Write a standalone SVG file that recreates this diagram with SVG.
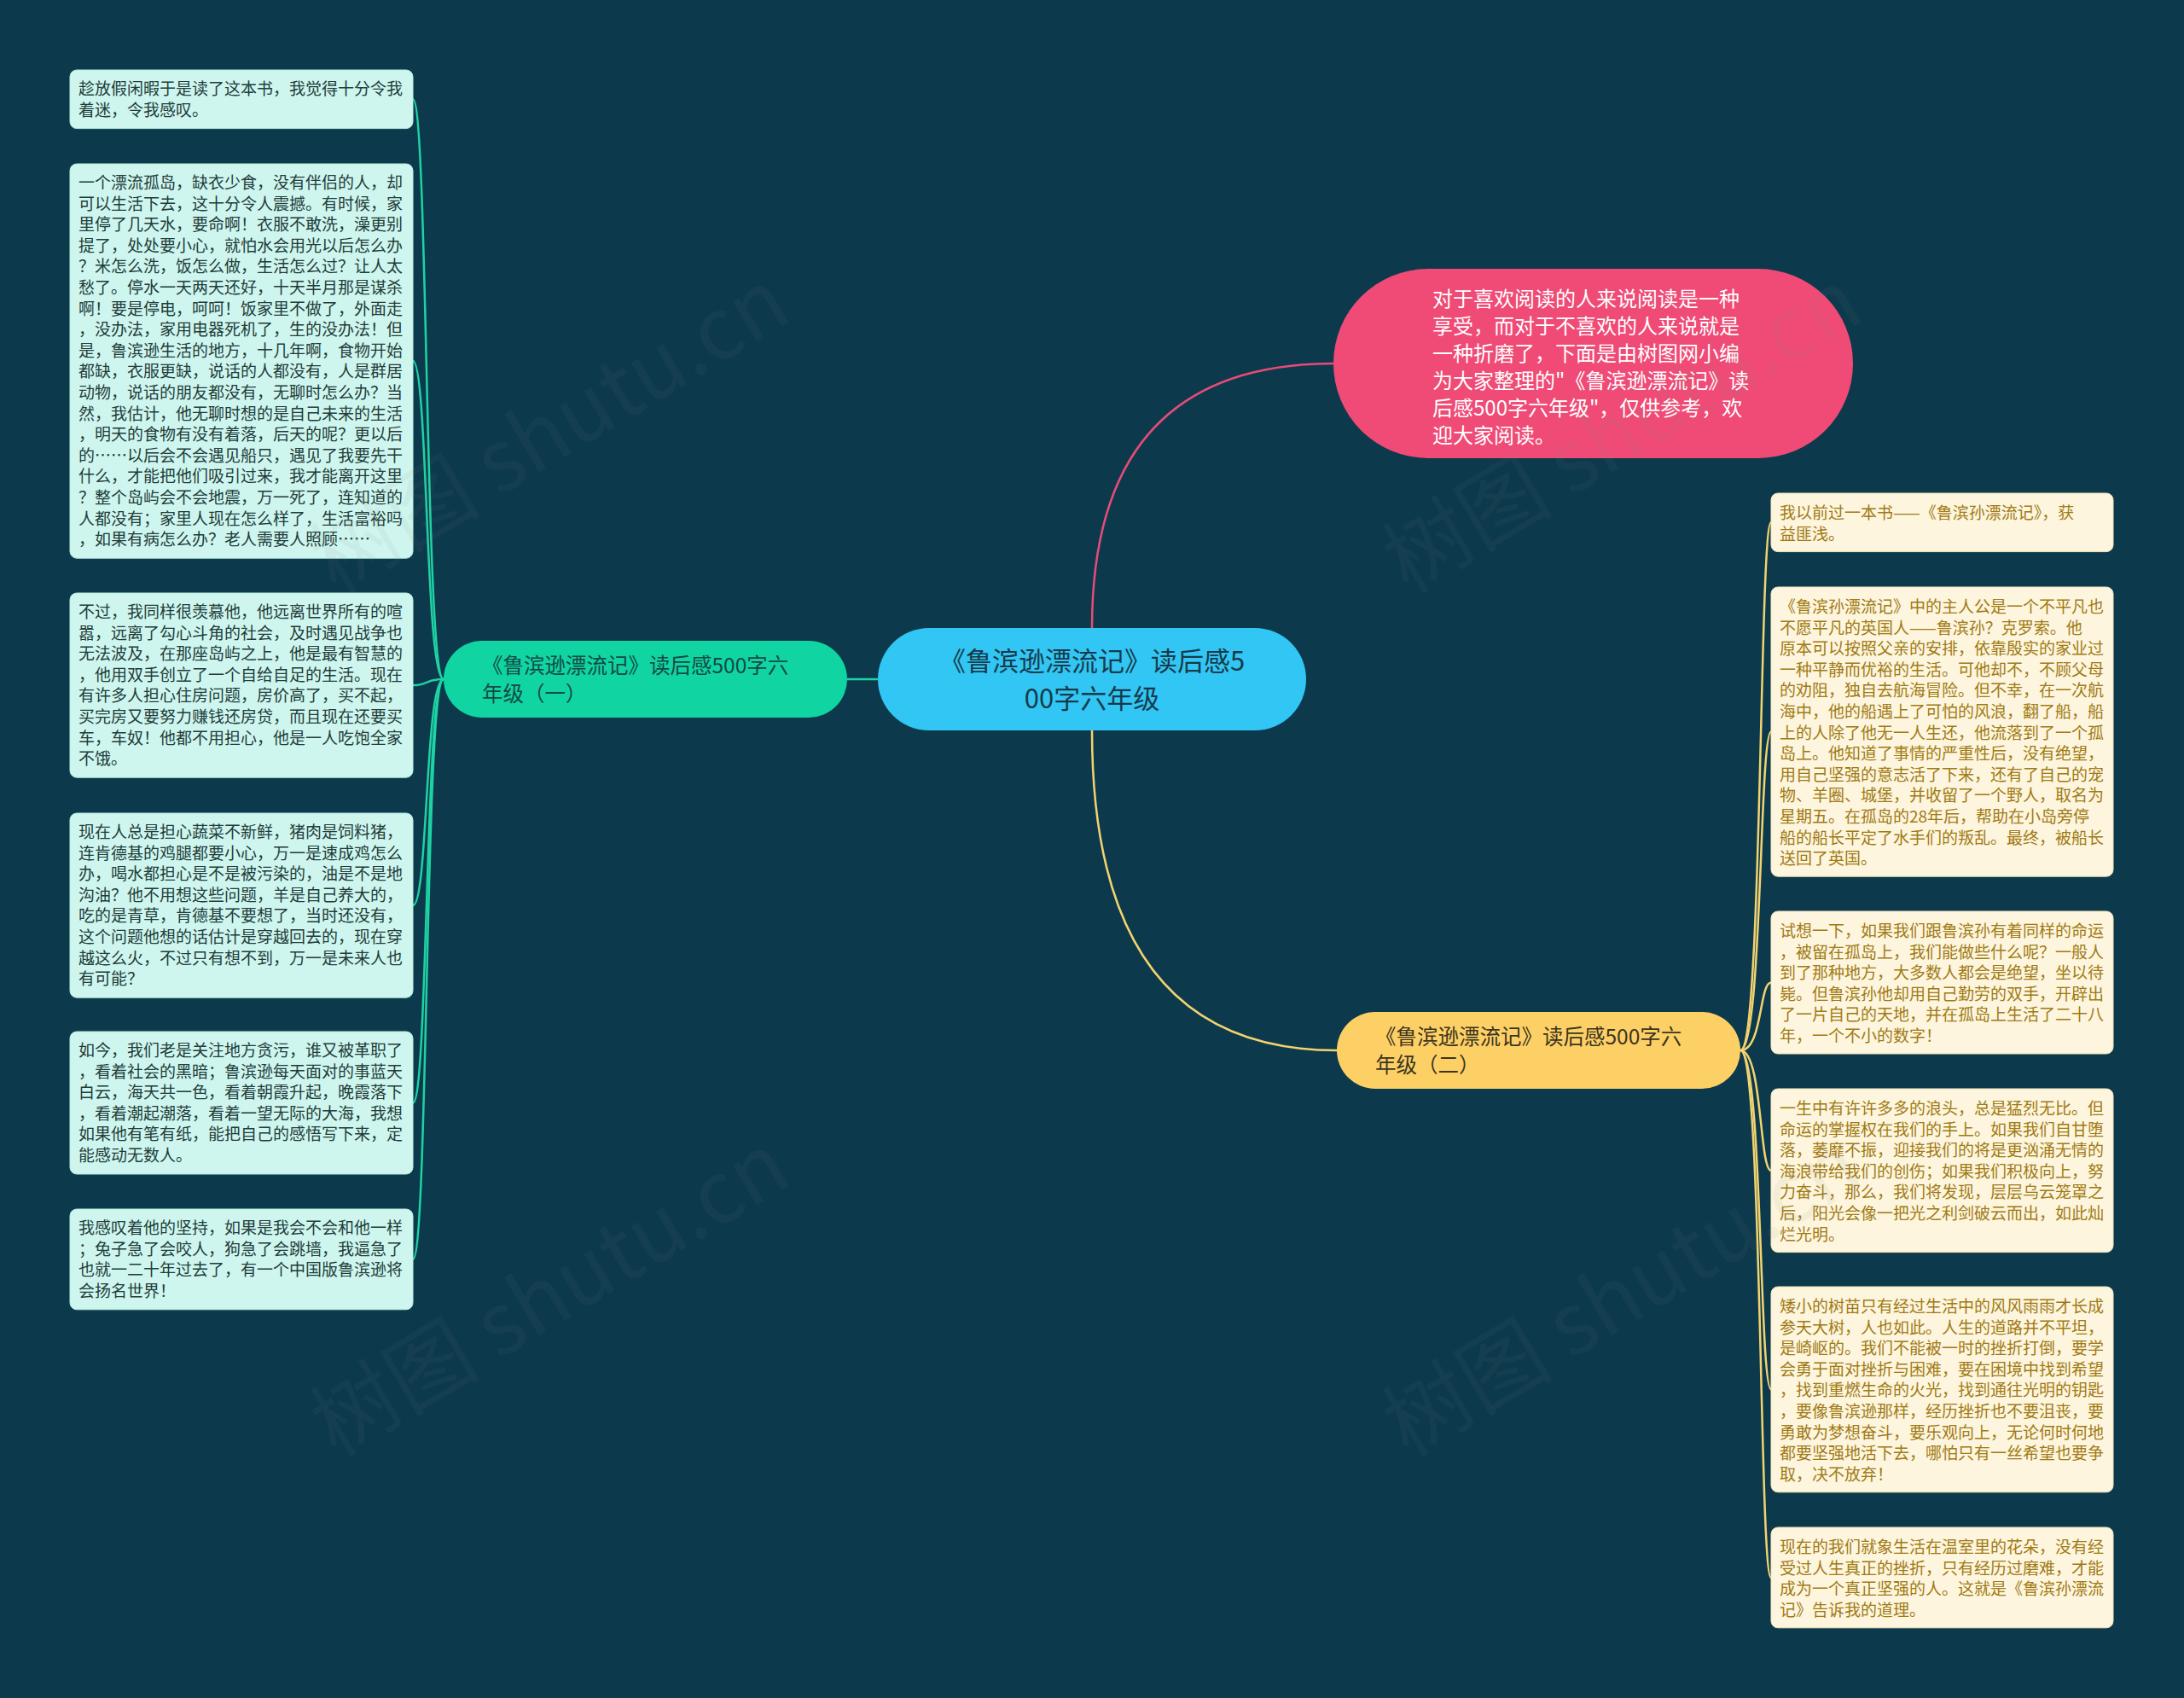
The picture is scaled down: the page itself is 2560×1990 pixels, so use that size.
<svg xmlns="http://www.w3.org/2000/svg" width="2560" height="1990" viewBox="0 0 2560 1990">
<style>
.bg{fill:#0c3a4c}
.t{font-family:"Noto Sans CJK SC","Noto Sans",sans-serif}
.leafL rect{fill:#cff6ee;stroke:#b5ede0;stroke-width:1}
.leafL text{fill:#213c3a;font-size:19px}
.leafR rect{fill:#fdf5dd;stroke:#f2e4b8;stroke-width:1}
.leafR text{fill:#a07a14;font-size:19px}
.cg{fill:none;stroke:#1ed3a3;stroke-width:2.5}
.cy{fill:none;stroke:#f3d36f;stroke-width:2.5}
.cp{fill:none;stroke:#e84b78;stroke-width:2.5}
.wm{font-family:"Noto Sans CJK SC","Liberation Sans",sans-serif;font-size:100px;fill:#8a8a8a;opacity:0.07}
</style>
<rect class="bg" x="0" y="0" width="2560" height="1990"/>

<g id="connectors">
  <path class="cp" d="M1280 736 Q1280 426 1563 426"/>
  <path class="cy" d="M1280 856 Q1280 1231 1567 1231"/>
  <path class="cg" d="M1029 796 L993 796"/>
  <path class="cg" d="M520 796 C498 796 502 116.3 484 116.3"/>
  <path class="cg" d="M520 796 C498 796 502 423.1 484 423.1"/>
  <path class="cg" d="M520 796 C498 796 502 803.1 484 803.1"/>
  <path class="cg" d="M520 796 C498 796 502 1061.1 484 1061.1"/>
  <path class="cg" d="M520 796 C498 796 502 1292.5 484 1292.5"/>
  <path class="cg" d="M520 796 C498 796 502 1475.9 484 1475.9"/>
  <path class="cy" d="M2040 1231 C2066 1231 2062 612.3 2076 612.3"/>
  <path class="cy" d="M2040 1231 C2066 1231 2062 857.6 2076 857.6"/>
  <path class="cy" d="M2040 1231 C2066 1231 2062 1151.5 2076 1151.5"/>
  <path class="cy" d="M2040 1231 C2066 1231 2062 1371.8 2076 1371.8"/>
  <path class="cy" d="M2040 1231 C2066 1231 2062 1628.4 2076 1628.4"/>
  <path class="cy" d="M2040 1231 C2066 1231 2062 1848.9 2076 1848.9"/>
</g>

<g id="root">
  <rect x="1029" y="736" width="502" height="120" rx="60" fill="#31c6f4"/>
  <text class="t" x="1280" y="786" font-size="31" fill="#173a4a" text-anchor="middle">《鲁滨逊漂流记》读后感5<tspan x="1280" dy="44">00字六年级</tspan></text>
</g>

<g id="intro">
  <rect x="1563" y="315" width="609" height="222" rx="111" fill="#ef4b76"/>
  <text class="t" x="1679" y="358.5" font-size="24" fill="#ffffff">对于喜欢阅读的人来说阅读是一种<tspan x="1679" dy="32">享受，而对于不喜欢的人来说就是</tspan><tspan x="1679" dy="32">一种折磨了，下面是由树图网小编</tspan><tspan x="1679" dy="32">为大家整理的"《鲁滨逊漂流记》读</tspan><tspan x="1679" dy="32">后感500字六年级"，仅供参考，欢</tspan><tspan x="1679" dy="32">迎大家阅读。</tspan></text>
</g>

<g id="branch1">
  <rect x="520" y="751" width="473" height="90" rx="45" fill="#10d5a2"/>
  <text class="t" x="565" y="789" font-size="24.5" fill="#134a44">《鲁滨逊漂流记》读后感500字六<tspan x="565" dy="33">年级（一）</tspan></text>
</g>

<g id="branch2">
  <rect x="1567" y="1186" width="473" height="90" rx="45" fill="#fdd066"/>
  <text class="t" x="1612" y="1224" font-size="24.5" fill="#3b3420">《鲁滨逊漂流记》读后感500字六<tspan x="1612" dy="33">年级（二）</tspan></text>
</g>

<g id="leafL1" class="leafL">
  <rect x="82" y="82" width="402" height="68.6" rx="8"/>
  <text class="t" x="92" y="111">趁放假闲暇于是读了这本书，我觉得十分令我<tspan x="92" dy="24.6">着迷，令我感叹。</tspan></text>
</g>

<g id="leafL2" class="leafL">
  <rect x="82" y="192" width="402" height="462.2" rx="8"/>
  <text class="t" x="92" y="221">一个漂流孤岛，缺衣少食，没有伴侣的人，却<tspan x="92" dy="24.6">可以生活下去，这十分令人震撼。有时候，家</tspan><tspan x="92" dy="24.6">里停了几天水，要命啊！衣服不敢洗，澡更别</tspan><tspan x="92" dy="24.6">提了，处处要小心，就怕水会用光以后怎么办</tspan><tspan x="92" dy="24.6">？米怎么洗，饭怎么做，生活怎么过？让人太</tspan><tspan x="92" dy="24.6">愁了。停水一天两天还好，十天半月那是谋杀</tspan><tspan x="92" dy="24.6">啊！要是停电，呵呵！饭家里不做了，外面走</tspan><tspan x="92" dy="24.6">，没办法，家用电器死机了，生的没办法！但</tspan><tspan x="92" dy="24.6">是，鲁滨逊生活的地方，十几年啊，食物开始</tspan><tspan x="92" dy="24.6">都缺，衣服更缺，说话的人都没有，人是群居</tspan><tspan x="92" dy="24.6">动物，说话的朋友都没有，无聊时怎么办？当</tspan><tspan x="92" dy="24.6">然，我估计，他无聊时想的是自己未来的生活</tspan><tspan x="92" dy="24.6">，明天的食物有没有着落，后天的呢？更以后</tspan><tspan x="92" dy="24.6">的……以后会不会遇见船只，遇见了我要先干</tspan><tspan x="92" dy="24.6">什么，才能把他们吸引过来，我才能离开这里</tspan><tspan x="92" dy="24.6">？整个岛屿会不会地震，万一死了，连知道的</tspan><tspan x="92" dy="24.6">人都没有；家里人现在怎么样了，生活富裕吗</tspan><tspan x="92" dy="24.6">，如果有病怎么办？老人需要人照顾……</tspan></text>
</g>

<g id="leafL3" class="leafL">
  <rect x="82" y="695" width="402" height="216.2" rx="8"/>
  <text class="t" x="92" y="724">不过，我同样很羡慕他，他远离世界所有的喧<tspan x="92" dy="24.6">嚣，远离了勾心斗角的社会，及时遇见战争也</tspan><tspan x="92" dy="24.6">无法波及，在那座岛屿之上，他是最有智慧的</tspan><tspan x="92" dy="24.6">，他用双手创立了一个自给自足的生活。现在</tspan><tspan x="92" dy="24.6">有许多人担心住房问题，房价高了，买不起，</tspan><tspan x="92" dy="24.6">买完房又要努力赚钱还房贷，而且现在还要买</tspan><tspan x="92" dy="24.6">车，车奴！他都不用担心，他是一人吃饱全家</tspan><tspan x="92" dy="24.6">不饿。</tspan></text>
</g>

<g id="leafL4" class="leafL">
  <rect x="82" y="953" width="402" height="216.2" rx="8"/>
  <text class="t" x="92" y="982">现在人总是担心蔬菜不新鲜，猪肉是饲料猪，<tspan x="92" dy="24.6">连肯德基的鸡腿都要小心，万一是速成鸡怎么</tspan><tspan x="92" dy="24.6">办，喝水都担心是不是被污染的，油是不是地</tspan><tspan x="92" dy="24.6">沟油？他不用想这些问题，羊是自己养大的，</tspan><tspan x="92" dy="24.6">吃的是青草，肯德基不要想了，当时还没有，</tspan><tspan x="92" dy="24.6">这个问题他想的话估计是穿越回去的，现在穿</tspan><tspan x="92" dy="24.6">越这么火，不过只有想不到，万一是未来人也</tspan><tspan x="92" dy="24.6">有可能？</tspan></text>
</g>

<g id="leafL5" class="leafL">
  <rect x="82" y="1209" width="402" height="167" rx="8"/>
  <text class="t" x="92" y="1238">如今，我们老是关注地方贪污，谁又被革职了<tspan x="92" dy="24.6">，看着社会的黑暗；鲁滨逊每天面对的事蓝天</tspan><tspan x="92" dy="24.6">白云，海天共一色，看着朝霞升起，晚霞落下</tspan><tspan x="92" dy="24.6">，看着潮起潮落，看着一望无际的大海，我想</tspan><tspan x="92" dy="24.6">如果他有笔有纸，能把自己的感悟写下来，定</tspan><tspan x="92" dy="24.6">能感动无数人。</tspan></text>
</g>

<g id="leafL6" class="leafL">
  <rect x="82" y="1417" width="402" height="117.8" rx="8"/>
  <text class="t" x="92" y="1446">我感叹着他的坚持，如果是我会不会和他一样<tspan x="92" dy="24.6">；兔子急了会咬人，狗急了会跳墙，我逼急了</tspan><tspan x="92" dy="24.6">也就一二十年过去了，有一个中国版鲁滨逊将</tspan><tspan x="92" dy="24.6">会扬名世界！</tspan></text>
</g>

<g id="leafR1" class="leafR">
  <rect x="2076" y="578" width="401" height="68.6" rx="8"/>
  <text class="t" x="2086" y="608">我以前过一本书——《鲁滨孙漂流记》，获<tspan x="2086" dy="24.6">益匪浅。</tspan></text>
</g>

<g id="leafR2" class="leafR">
  <rect x="2076" y="688" width="401" height="339.2" rx="8"/>
  <text class="t" x="2086" y="718">《鲁滨孙漂流记》中的主人公是一个不平凡也<tspan x="2086" dy="24.6">不愿平凡的英国人——鲁滨孙？克罗索。他</tspan><tspan x="2086" dy="24.6">原本可以按照父亲的安排，依靠殷实的家业过</tspan><tspan x="2086" dy="24.6">一种平静而优裕的生活。可他却不，不顾父母</tspan><tspan x="2086" dy="24.6">的劝阻，独自去航海冒险。但不幸，在一次航</tspan><tspan x="2086" dy="24.6">海中，他的船遇上了可怕的风浪，翻了船，船</tspan><tspan x="2086" dy="24.6">上的人除了他无一人生还，他流落到了一个孤</tspan><tspan x="2086" dy="24.6">岛上。他知道了事情的严重性后，没有绝望，</tspan><tspan x="2086" dy="24.6">用自己坚强的意志活了下来，还有了自己的宠</tspan><tspan x="2086" dy="24.6">物、羊圈、城堡，并收留了一个野人，取名为</tspan><tspan x="2086" dy="24.6">星期五。在孤岛的28年后，帮助在小岛旁停</tspan><tspan x="2086" dy="24.6">船的船长平定了水手们的叛乱。最终，被船长</tspan><tspan x="2086" dy="24.6">送回了英国。</tspan></text>
</g>

<g id="leafR3" class="leafR">
  <rect x="2076" y="1068" width="401" height="167" rx="8"/>
  <text class="t" x="2086" y="1098">试想一下，如果我们跟鲁滨孙有着同样的命运<tspan x="2086" dy="24.6">，被留在孤岛上，我们能做些什么呢？一般人</tspan><tspan x="2086" dy="24.6">到了那种地方，大多数人都会是绝望，坐以待</tspan><tspan x="2086" dy="24.6">毙。但鲁滨孙他却用自己勤劳的双手，开辟出</tspan><tspan x="2086" dy="24.6">了一片自己的天地，并在孤岛上生活了二十八</tspan><tspan x="2086" dy="24.6">年，一个不小的数字！</tspan></text>
</g>

<g id="leafR4" class="leafR">
  <rect x="2076" y="1276" width="401" height="191.6" rx="8"/>
  <text class="t" x="2086" y="1306">一生中有许许多多的浪头，总是猛烈无比。但<tspan x="2086" dy="24.6">命运的掌握权在我们的手上。如果我们自甘堕</tspan><tspan x="2086" dy="24.6">落，萎靡不振，迎接我们的将是更汹涌无情的</tspan><tspan x="2086" dy="24.6">海浪带给我们的创伤；如果我们积极向上，努</tspan><tspan x="2086" dy="24.6">力奋斗，那么，我们将发现，层层乌云笼罩之</tspan><tspan x="2086" dy="24.6">后，阳光会像一把光之利剑破云而出，如此灿</tspan><tspan x="2086" dy="24.6">烂光明。</tspan></text>
</g>

<g id="leafR5" class="leafR">
  <rect x="2076" y="1508" width="401" height="240.8" rx="8"/>
  <text class="t" x="2086" y="1538">矮小的树苗只有经过生活中的风风雨雨才长成<tspan x="2086" dy="24.6">参天大树，人也如此。人生的道路并不平坦，</tspan><tspan x="2086" dy="24.6">是崎岖的。我们不能被一时的挫折打倒，要学</tspan><tspan x="2086" dy="24.6">会勇于面对挫折与困难，要在困境中找到希望</tspan><tspan x="2086" dy="24.6">，找到重燃生命的火光，找到通往光明的钥匙</tspan><tspan x="2086" dy="24.6">，要像鲁滨逊那样，经历挫折也不要沮丧，要</tspan><tspan x="2086" dy="24.6">勇敢为梦想奋斗，要乐观向上，无论何时何地</tspan><tspan x="2086" dy="24.6">都要坚强地活下去，哪怕只有一丝希望也要争</tspan><tspan x="2086" dy="24.6">取，决不放弃！</tspan></text>
</g>

<g id="leafR6" class="leafR">
  <rect x="2076" y="1790" width="401" height="117.8" rx="8"/>
  <text class="t" x="2086" y="1820">现在的我们就象生活在温室里的花朵，没有经<tspan x="2086" dy="24.6">受过人生真正的挫折，只有经历过磨难，才能</tspan><tspan x="2086" dy="24.6">成为一个真正坚强的人。这就是《鲁滨孙漂流</tspan><tspan x="2086" dy="24.6">记》告诉我的道理。</tspan></text>
</g>

<g id="watermarks">
  <text class="wm" x="645" y="540" text-anchor="middle" transform="rotate(-31 645 506)">树图 shutu.cn</text>
  <text class="wm" x="1902" y="540" text-anchor="middle" transform="rotate(-31 1902 506)">树图 shutu.cn</text>
  <text class="wm" x="645" y="1552" text-anchor="middle" transform="rotate(-31 645 1518)">树图 shutu.cn</text>
  <text class="wm" x="1902" y="1552" text-anchor="middle" transform="rotate(-31 1902 1518)">树图 shutu.cn</text>
</g>
</svg>
